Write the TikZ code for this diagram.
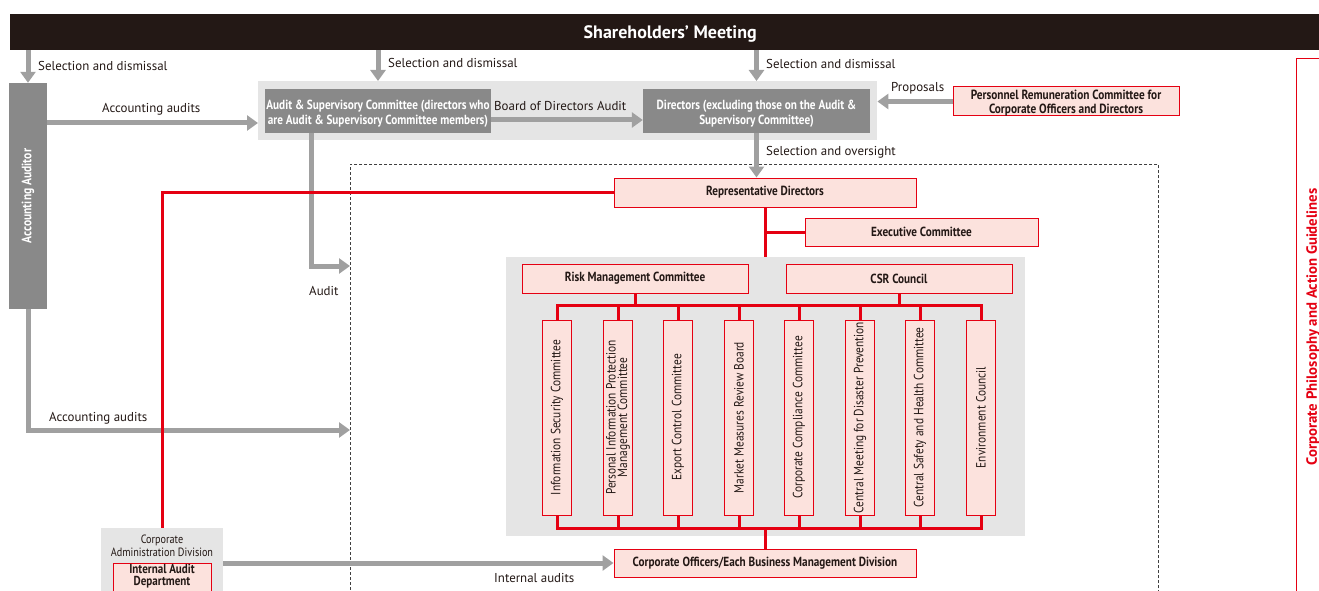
\documentclass[tikz,border=0pt]{standalone}
\usepackage{fontspec}
\setmainfont{PT Sans}
\newfontfamily\cond[FakeStretch=0.85]{PT Sans}
\usetikzlibrary{arrows.meta,calc}
\definecolor{pinkf}{HTML}{FCE2DD}
\definecolor{redl}{HTML}{E50012}
\definecolor{garr}{HTML}{A0A0A0}
\definecolor{dgray}{HTML}{898989}
\definecolor{lgray}{HTML}{E5E5E5}
\definecolor{blk}{HTML}{231815}
\definecolor{txt}{HTML}{231815}
\begin{document}
\begin{tikzpicture}[x=1pt,y=-1pt,
 pinkbox/.style={draw=redl, line width=1pt, fill=pinkf, inner sep=0pt, text=txt, align=center, font=\cond\bfseries\fontsize{13.2}{13.5}\selectfont},
 dbox/.style={fill=dgray, inner sep=0pt},
 dtext/.style={inner sep=0pt, text=white, align=center, font=\cond\bfseries\fontsize{13.2}{15}\selectfont, yshift=-3pt},
 grp/.style={fill=lgray, inner sep=0pt, anchor=north west},
 garrow/.style={draw=garr, line width=5pt, -{Triangle[width=15pt,length=11pt]}},
 rline/.style={draw=redl, line width=3pt},
 lbl/.style={font=\fontsize{12.9}{13}\selectfont, text=txt, inner sep=0pt, anchor=west},
 vtext/.style={rotate=90, inner sep=0pt, align=center, text=txt, font=\cond\fontsize{13.4}{11.5}\selectfont}]
\useasboundingbox (0,0) rectangle (1319,591);
\clip (0,0) rectangle (1319,591);
% dashed region
\node[draw=black!75, line width=0.8pt, dash pattern=on 3pt off 2pt, minimum width=808pt, minimum height=436pt, inner sep=0pt, anchor=north west] (dash) at (350,164) {};
% shareholders bar
\node[fill=blk, minimum width=1320pt, minimum height=36pt, inner sep=0pt, anchor=north west] (sh) at (10,14) {};
\node[inner sep=0pt, text=white, font=\bfseries\fontsize{18}{18}\selectfont, yshift=-2pt] (sht) at (sh.center) {Shareholders’ Meeting};
% accounting auditor
\node[dbox, minimum width=38pt, minimum height=226pt] (acc) at (28,196) {};
\node[vtext, text=white, font=\cond\bfseries\fontsize{13.6}{14}\selectfont] (acct) at (acc.center) {Accounting Auditor};
% board group
\node[grp, minimum width=619pt, minimum height=59pt] (board) at (258,81) {};
\node[dbox, minimum width=226pt, minimum height=44pt] (asc) at (378,111) {};
\node[dtext] (asct) at (asc.center) {Audit \& Supervisory Committee (directors who\\are Audit \& Supervisory Committee members)};
\node[dbox, minimum width=227pt, minimum height=44pt] (dir) at (756.5,111) {};
\node[dtext] (dirt) at (dir.center) {Directors (excluding those on the Audit \&\\Supervisory Committee)};
\node[pinkbox, minimum width=226pt, minimum height=29pt] (prc) at (1066,101.5) {};
\node[inner sep=0pt, text=txt, align=center, font=\cond\bfseries\fontsize{13.3}{14}\selectfont, yshift=-1.5pt] (prct) at (prc.center) {Personnel Remuneration Committee for\\Corporate Officers and Directors};
% representative directors etc
\node[pinkbox, minimum width=302pt, minimum height=29pt] (rep) at (765,192.5) {Representative Directors};
\node[pinkbox, minimum width=233pt, minimum height=28pt] (exec) at (921.5,232) {Executive Committee};
\node[grp, minimum width=519pt, minimum height=279pt] (risk grp) at (506,257) {};
\node[pinkbox, minimum width=226pt, minimum height=29pt] (risk) at (635,278.5) {Risk Management Committee};
\node[pinkbox, minimum width=226pt, minimum height=29pt] (csr) at (899,278.5) {CSR Council};
\foreach \i/\x/\t in {1/557/{Information Security Committee},2/618/{Personal Information Protection\\Management Committee},3/678/{Export Control Committee},4/739/{Market Measures Review Board},5/799/{Corporate Compliance Committee},6/860/{Central Meeting for Disaster Prevention},7/920/{Central Safety and Health Committee},8/981/{Environment Council}}{
  \node[pinkbox, minimum width=29pt, minimum height=195pt] (c\i) at (\x,417.5) {};
  \node[vtext] (ct\i) at (c\i.center) {\t};
}
\node[pinkbox, minimum width=302pt, minimum height=28pt] (co) at (765,563) {Corporate Officers/Each Business Management Division};
% corporate administration division
\node[grp, minimum width=122pt, minimum height=70pt] (cad) at (101,528) {};
\node[inner sep=0pt, align=center, text=txt, font=\cond\fontsize{12}{12.5}\selectfont] (cadt) at (162,546) {Corporate\\Administration Division};
\node[pinkbox, minimum width=98pt, minimum height=36pt, anchor=north] (iad) at (162,563) {};
\node[inner sep=0pt, align=center, text=txt, font=\cond\bfseries\fontsize{13}{12}\selectfont] (iadt) at (162,576.5) {Internal Audit\\Department};
% right side
\node[draw=redl, line width=1pt, minimum width=45pt, minimum height=540pt, inner sep=0pt, anchor=north west] (cpg) at (1296,58) {};
\node[rotate=90, inner sep=0pt, text=redl, font=\bfseries\fontsize{14.8}{15}\selectfont] (cpgt) at (1313,327) {Corporate Philosophy and Action Guidelines};
% coordinates
\coordinate (tb) at (0,305);
\coordinate (bb) at (0,528);
\coordinate (ascfoot) at (311,133);
\coordinate (auditrow) at (0,266);
\coordinate (accrow) at (0,430);
\coordinate (accaud) at (0,123);
\coordinate (bdrow) at (0,120);
% gray arrows
\draw[garrow] (acc.north |- sh.south) -- (acc.north);
\draw[garrow] (asc.north |- sh.south) -- (asc.north |- board.north);
\draw[garrow] (dir.north |- sh.south) -- (dir.north |- board.north);
\draw[garrow] (acc.east |- accaud) -- (board.west |- accaud);
\draw[garrow] (asc.east |- bdrow) -- (dir.west |- bdrow);
\draw[garrow] (prc.west) -- (board.east |- prc.west);
\draw[garrow] (dir.south) -- (dir.south |- rep.north);
\draw[garrow] (ascfoot) |- (dash.west |- auditrow);
\draw[garrow] (acc.south) |- (dash.west |- accrow);
\draw[garrow] (cad.east |- co.west) -- (co.west);
% red lines
\draw[rline] (rep.west) -| (cad.north);
\draw[rline] (rep.south) -- (rep.south |- risk grp.north);
\draw[rline] (rep.south |- exec.west) -- (exec.west);
\draw[rline, line cap=rect] (c1.north |- tb) -- (c8.north |- tb);
\draw[rline, line cap=rect] (c1.south |- bb) -- (c8.south |- bb);
\draw[rline] (risk.south) -- (risk.south |- tb);
\draw[rline] (csr.south) -- (csr.south |- tb);
\foreach \i in {1,...,8}{
  \draw[rline] (c\i.north) -- (c\i.north |- tb);
  \draw[rline] (c\i.south) -- (c\i.south |- bb);
}
\draw[rline] (co.north |- bb) -- (co.north);
% labels
\node[lbl] (l1) at (38,66) {Selection and dismissal};
\node[lbl] (l2) at (102,109) {Accounting audits};
\node[lbl] (l3) at (388,63) {Selection and dismissal};
\node[lbl] (l4) at (494,106) {Board of Directors Audit};
\node[lbl] (l5) at (766,64) {Selection and dismissal};
\node[lbl] (l6) at (891,88) {Proposals};
\node[lbl] (l7) at (766,152) {Selection and oversight};
\node[lbl] (l8) at (309,291) {Audit};
\node[lbl] (l9) at (49,418) {Accounting audits};
\node[lbl] (l10) at (494,578) {Internal audits};
\end{tikzpicture}
\end{document}
